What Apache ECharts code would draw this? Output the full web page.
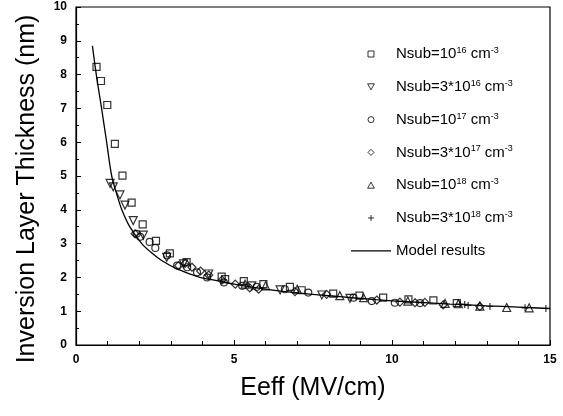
<!DOCTYPE html>
<html>
<head>
<meta charset="utf-8">
<script src="https://cdn.jsdelivr.net/npm/echarts@6/dist/echarts.min.js"></script>
<style>
  html, body { margin: 0; padding: 0; background: #fff; }
  #chart { width: 563px; height: 416px; }
</style>
</head>
<body>
<div id="chart"></div>
<script>
// measured points [Eeff (MV/cm), thickness (nm)]
var nsub1e16 = [[0.65, 8.23], [0.79, 7.81], [0.99, 7.10], [1.23, 5.95], [1.47, 5.01], [1.76, 4.21], [2.11, 3.57], [2.53, 3.08], [2.97, 2.71], [3.5, 2.45], [4.61, 2.02], [4.72, 1.95], [5.31, 1.89], [5.93, 1.80], [6.77, 1.72], [7.14, 1.62], [8.14, 1.52], [8.97, 1.46], [9.72, 1.40], [10.52, 1.35], [11.31, 1.32], [12.05, 1.24]];
var nsub3e16 = [[1.08, 4.78], [1.18, 4.68], [1.39, 4.44], [1.55, 4.14], [1.81, 3.68], [2.13, 3.25], [2.87, 2.59], [3.4, 2.4], [4.2, 2.1], [5.56, 1.75], [6.46, 1.63], [7.78, 1.48], [8.67, 1.38]];
var nsub1e17 = [[1.92, 3.29], [2.03, 3.2], [2.33, 3.05], [2.51, 2.87], [2.88, 2.65], [3.2, 2.35], [3.52, 2.3], [3.83, 2.15], [4.15, 2.0], [4.68, 1.85], [5.26, 1.75], [5.72, 1.72], [6.61, 1.65], [7.35, 1.55], [8.78, 1.40], [9.36, 1.30], [10.09, 1.25], [10.89, 1.24]];
var nsub3e17 = [[1.87, 3.29], [3.25, 2.35], [3.46, 2.42], [3.67, 2.3], [3.94, 2.19], [4.2, 2.07], [4.62, 1.92], [5.04, 1.80], [5.5, 1.69], [5.78, 1.65], [6.93, 1.58], [7.93, 1.50], [9.52, 1.33], [10.25, 1.27], [10.73, 1.25], [11.04, 1.26], [11.62, 1.19], [12.78, 1.14]];
var nsub1e18 = [[5.35, 1.80], [6.0, 1.75], [7.0, 1.65], [8.35, 1.46], [9.1, 1.40], [10.5, 1.30], [11.68, 1.23], [12.1, 1.22], [12.78, 1.15], [13.63, 1.11], [14.34, 1.10]];
var nsub3e18 = [[12.15, 1.21], [12.3, 1.2], [12.41, 1.17], [13.1, 1.14], [14.21, 1.10], [14.87, 1.08]];
var modelResults = [[0.52, 8.85], [0.65, 7.95], [0.81, 7.0], [0.97, 6.0], [1.13, 5.0], [1.3, 4.43], [1.45, 4.0], [1.7, 3.5], [2.08, 3.0], [2.4, 2.72], [2.71, 2.5], [3.2, 2.25], [3.92, 2.0], [4.5, 1.9], [5.0, 1.8], [6.0, 1.65], [7.0, 1.54], [8.35, 1.43], [9.5, 1.34], [10.5, 1.28], [11.84, 1.21], [13.0, 1.16], [14.0, 1.12], [15.0, 1.08]];

var seriesNames = ['Nsub=10^16 cm^-3', 'Nsub=3*10^16 cm^-3', 'Nsub=10^17 cm^-3', 'Nsub=3*10^17 cm^-3', 'Nsub=10^18 cm^-3', 'Nsub=3*10^18 cm^-3', 'Model results'];
var legendLabels = ['Nsub=10{sup|16} cm{sup|-3}', 'Nsub=3*10{sup|16} cm{sup|-3}', 'Nsub=10{sup|17} cm{sup|-3}', 'Nsub=3*10{sup|17} cm{sup|-3}', 'Nsub=10{sup|18} cm{sup|-3}', 'Nsub=3*10{sup|18} cm{sup|-3}', 'Model results'];

var FONT = 'Liberation Sans';
var hollow = { color: 'transparent', borderColor: '#000', borderWidth: 1.2 };

// path symbols keep their aspect in the legend too
var SQUARE = 'path://M0,0L10,0L10,10L0,10Z';
var TRI_DOWN = 'path://M0,0L10,0L5,9Z';
var DIAMOND = 'path://M5,0L10,5L5,10L0,5Z';
var TRI_UP = 'path://M5,0L10,9L0,9Z';
var PLUS = 'path://M5,0L5,10M0,5L10,5';

function scatter(name, data, symbol, size) {
  return {
    name: name,
    type: 'scatter',
    data: data,
    symbol: symbol,
    symbolSize: size,
    itemStyle: hollow,
    emphasis: { disabled: true },
    z: 3
  };
}

var legendData = seriesNames.map(function (n, i) {
  if (i === 6) return { name: n, icon: 'path://M0,0L40,0L40,1.3L0,1.3Z', itemStyle: { color: '#000', borderWidth: 0 } };
  return { name: n };
});

var myChart = echarts.init(document.getElementById('chart'));
myChart.setOption({
  animation: false,
  textStyle: { fontFamily: FONT },
  grid: { left: 76, right: 13, top: 7, bottom: 71, show: true, borderColor: '#000', borderWidth: 1.2, backgroundColor: 'transparent' },
  legend: {
    orient: 'vertical',
    left: 346,
    top: 41,
    itemWidth: 40,
    itemHeight: 6,
    itemGap: 16.8,
    data: legendData,
    itemStyle: { borderWidth: 1 },
    textStyle: {
      fontFamily: FONT, fontSize: 15, color: '#000', lineHeight: 16,
      rich: { sup: { fontFamily: FONT, fontSize: 9, verticalAlign: 'top', lineHeight: 16 } }
    },
    formatter: function (name) { return legendLabels[seriesNames.indexOf(name)]; }
  },
  xAxis: {
    type: 'value', min: 0, max: 15, interval: 5,
    name: 'Eeff (MV/cm)', nameLocation: 'middle', nameGap: 31,
    nameTextStyle: { fontFamily: FONT, fontSize: 25, color: '#000' },
    axisLine: { lineStyle: { color: '#000', width: 1.2 } },
    axisTick: { inside: true, length: 5, lineStyle: { color: '#000' } },
    minorTick: { show: true, splitNumber: 5, length: 4, lineStyle: { color: '#000' } },
    axisLabel: { color: '#000', fontWeight: 'bold', fontSize: 12, margin: 9, fontFamily: FONT },
    splitLine: { show: false }
  },
  yAxis: {
    type: 'value', min: 0, max: 10, interval: 1,
    name: 'Inversion Layer Thickness (nm)', nameLocation: 'middle', nameGap: 36,
    nameTextStyle: { fontFamily: FONT, fontSize: 25, color: '#000', padding: [0, 26, 0, 0] },
    axisLine: { show: true, lineStyle: { color: '#000', width: 1.2 } },
    axisTick: { inside: true, length: 5, lineStyle: { color: '#000' } },
    minorTick: { show: true, splitNumber: 2, length: 3, lineStyle: { color: '#000' } },
    axisLabel: { color: '#000', fontWeight: 'bold', fontSize: 12, margin: 9, fontFamily: FONT },
    splitLine: { show: false }
  },
  series: [
    scatter(seriesNames[0], nsub1e16, SQUARE, 7),
    scatter(seriesNames[1], nsub3e16, TRI_DOWN, 8),
    scatter(seriesNames[2], nsub1e17, 'circle', 7),
    scatter(seriesNames[3], nsub3e17, DIAMOND, 8),
    scatter(seriesNames[4], nsub1e18, TRI_UP, 8),
    scatter(seriesNames[5], nsub3e18, PLUS, 7),
    {
      name: seriesNames[6],
      type: 'line',
      data: modelResults,
      smooth: 0.3,
      symbol: 'none',
      lineStyle: { color: '#000', width: 1.3 },
      itemStyle: { color: '#000' },
      z: 2
    }
  ]
});
</script>
</body>
</html>
